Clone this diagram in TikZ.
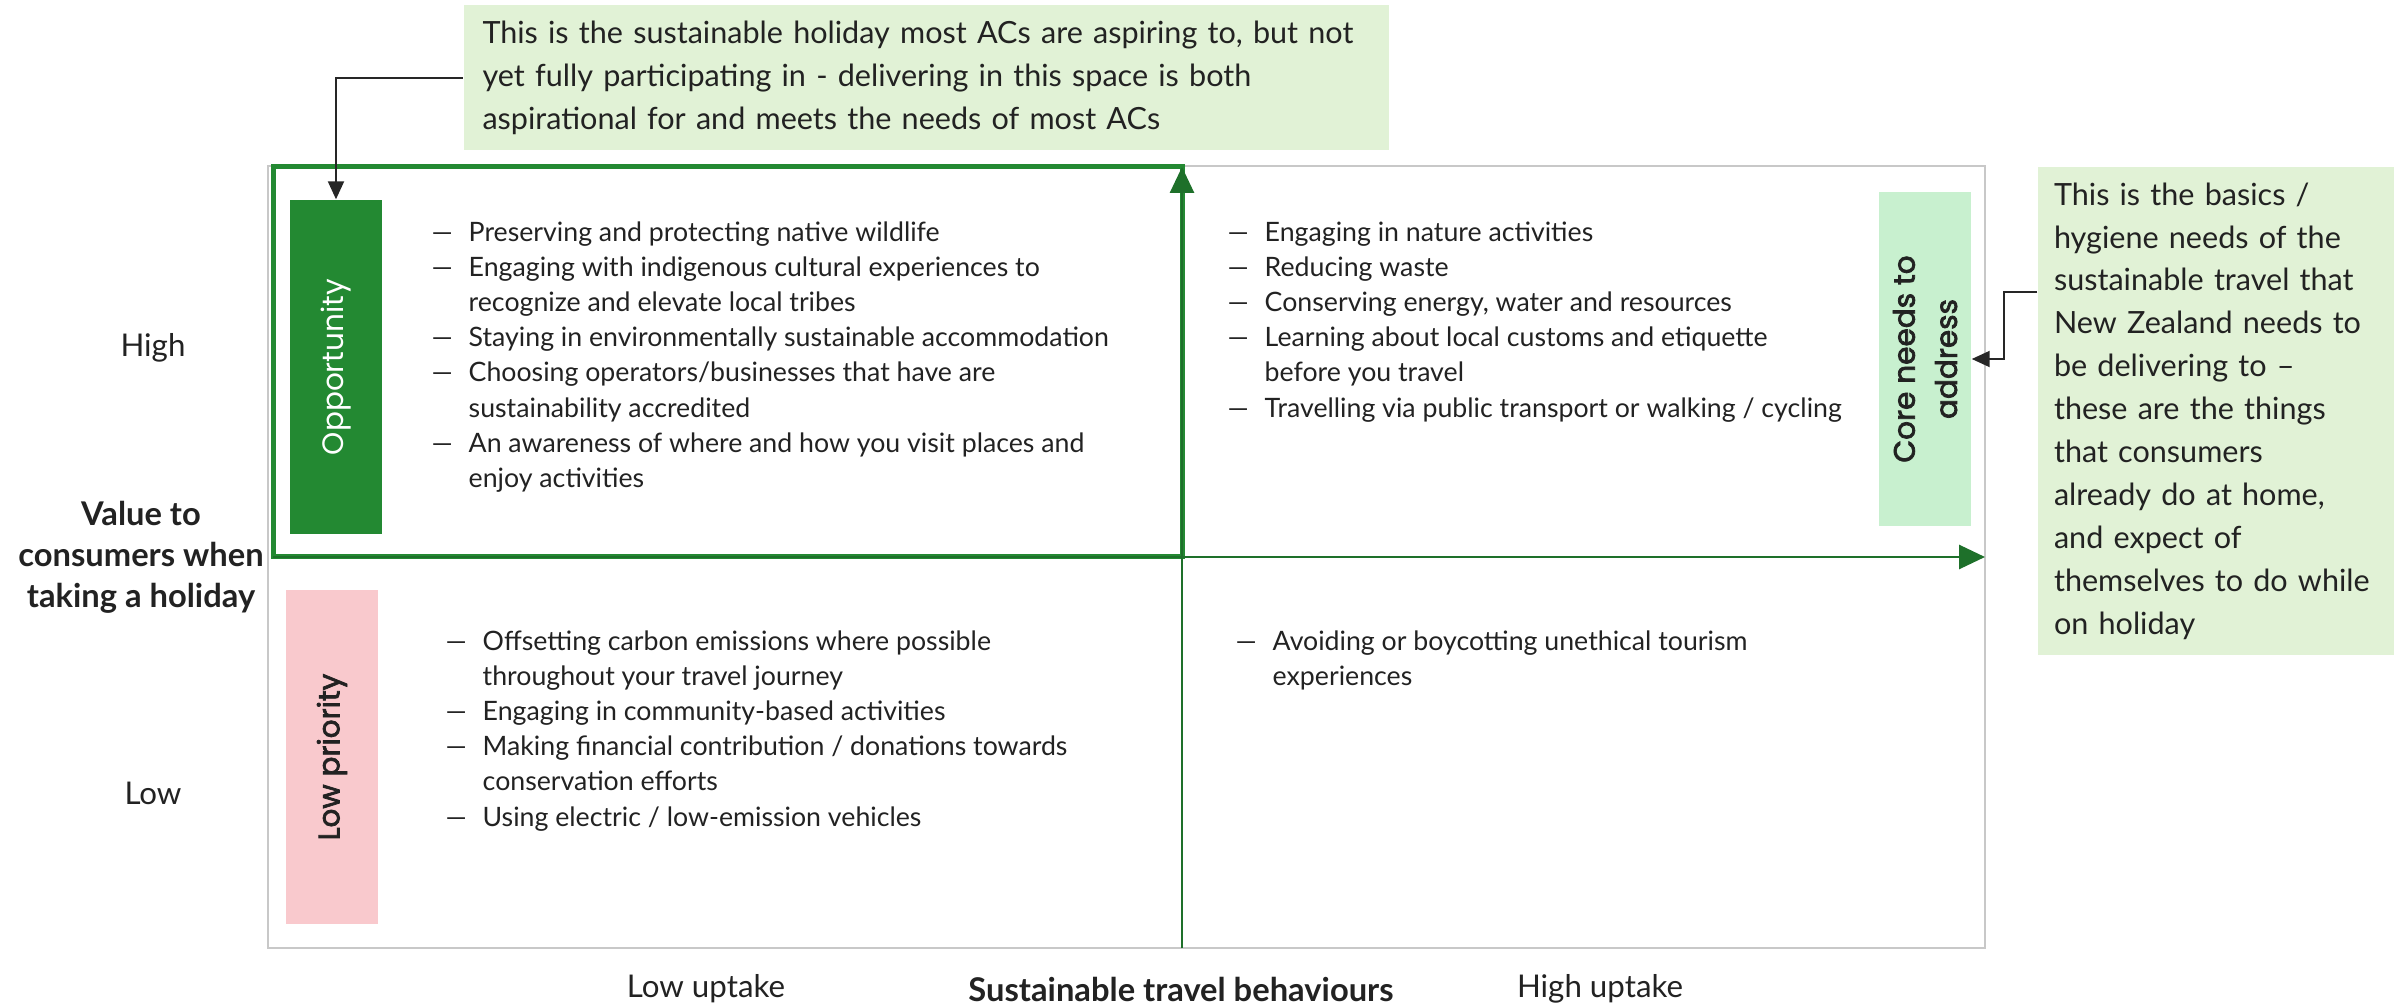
\documentclass[tikz,border=0pt]{standalone}
\usepackage{fontspec}
\setmainfont{Lato}
\newfontfamily\tagfont{Poppins}
\newfontfamily\tagfontsb{Poppins}[FakeBold=2.5]
\usetikzlibrary{arrows.meta}

\definecolor{oppgreen}{RGB}{35,137,50}
\definecolor{axisgreen}{RGB}{30,112,42}
\definecolor{notegreen}{RGB}{225,242,214}
\definecolor{coregreen}{RGB}{200,240,207}
\definecolor{lowpink}{RGB}{249,201,205}
\definecolor{framegrey}{RGB}{200,200,200}
\definecolor{inkgrey}{RGB}{34,34,34}

\tikzset{
    qm frame/.style={draw=framegrey, line width=0.2mm},
    qm focus/.style={draw=oppgreen, line width=0.5mm},
    qm axis/.style={-{Triangle[length=2.6mm, width=2.4mm]}, axisgreen,
                    line width=0.28mm},
    qm tag/.style={rotate=90, minimum width=33.4mm, minimum height=9.2mm,
                   inner sep=0pt, align=center,
                   font=\tagfont\fontsize{8.4}{12}\selectfont},
    qm note/.style={fill=notegreen, align=left, inner ysep=0pt, text=inkgrey,
                    font=\fontsize{8.7}{12.2}\selectfont},
    qm items/.style={anchor=north west, align=left, inner sep=0pt,
                     text=inkgrey, font=\fontsize{7.6}{10}\selectfont},
    qm level/.style={text=inkgrey, font=\fontsize{8.9}{11.7}\selectfont},
    qm title/.style={text=inkgrey, align=center,
                     font=\fontsize{9.3}{11.7}\selectfont\bfseries},
    qm pointer/.style={-{Triangle[length=1.8mm, width=1.6mm]}, black!85,
                       line width=0.2mm},
}
\newcommand{\itm}[1]{\makebox[3.7mm][l]{\textemdash}#1}
\newcommand{\cnt}[1]{\hspace*{3.7mm}#1}

\begin{document}
\begin{tikzpicture}[x=0.1mm, y=-0.1mm]
    \useasboundingbox (0,0) rectangle (2405,1007);

    % Quadrant frame and the highlighted quadrant
    \draw[qm frame] (268,166) rectangle (1985,948);
    \draw[qm focus] (273,167) rectangle (1182,557);

    % Axes
    \coordinate (ax-bottom) at (1182,948);
    \coordinate (ax-top)    at (1182,167);
    \coordinate (ax-left)   at (273,557);
    \coordinate (ax-right)  at (1985,557);
    \draw[qm axis] (ax-bottom) -- (ax-top);
    \draw[qm axis] (ax-left) -- (ax-right);

    % Coloured tags
    \node[qm tag, fill=oppgreen, text=white] (opp) at (336,367) {Opportunity};
    \node[qm tag, fill=coregreen, text=inkgrey,
          font=\tagfontsb\fontsize{8.4}{12}\selectfont] (core) at (1925,359)
        {Core needs to\\address};
    \node[qm tag, fill=lowpink, text=inkgrey,
          font=\tagfontsb\fontsize{8.4}{12}\selectfont] (low) at (332,757)
        {Low priority};

    % Behaviours in each quadrant
    \node[qm items] (tl) at (431,221) {%
        \itm{Preserving and protecting native wildlife}\\
        \itm{Engaging with indigenous cultural experiences to}\\
        \cnt{recognize and elevate local tribes}\\
        \itm{Staying in environmentally sustainable accommodation}\\
        \itm{Choosing operators/businesses that have are}\\
        \cnt{sustainability accredited}\\
        \itm{An awareness of where and how you visit places and}\\
        \cnt{enjoy activities}};
    \node[qm items] (tr) at (1227,221) {%
        \itm{Engaging in nature activities}\\
        \itm{Reducing waste}\\
        \itm{Conserving energy, water and resources}\\
        \itm{Learning about local customs and etiquette}\\
        \cnt{before you travel}\\
        \itm{Travelling via public transport or walking / cycling}};
    \node[qm items] (bl) at (445,630) {%
        \itm{Offsetting carbon emissions where possible}\\
        \cnt{throughout your travel journey}\\
        \itm{Engaging in community-based activities}\\
        \itm{Making financial contribution / donations towards}\\
        \cnt{conservation efforts}\\
        \itm{Using electric / low-emission vehicles}};
    \node[qm items] (br) at (1235,630) {%
        \itm{Avoiding or boycotting unethical tourism}\\
        \cnt{experiences}};

    % Axis labels
    \node[qm level] (high) at (153,348) {High};
    \node[qm level] (lowv) at (153,793) {Low};
    \node[qm title] (value) at (141,557) {Value to\\consumers when\\taking a holiday};
    \node[qm level] (lowup)  at (706,989) {Low uptake};
    \node[qm title] (behav)  at (1181,989) {Sustainable travel behaviours};
    \node[qm level] (highup) at (1600,989) {High uptake};

    % Call-out notes
    \node[qm note, inner xsep=1.9mm, text width=88.7mm, minimum height=14.5mm]
        (aspire) at (926,78)
        {This is the sustainable holiday most ACs are aspiring to, but not\\
        yet fully participating in - delivering in this space is both\\
        aspirational for and meets the needs of most ACs};
    \node[qm note, inner xsep=1.6mm, text width=32.4mm, minimum height=48.8mm]
        (basics) at (2216,411)
        {This is the basics /\\hygiene needs of the\\
        sustainable travel that\\New Zealand needs to\\be delivering to --\\
        these are the things\\that consumers\\already do at home,\\
        and expect of\\themselves to do while\\on holiday};

    % Pointers
    \coordinate (bend) at (2004,292);
    \draw[qm pointer] (aspire.west) -| (opp.east);
    \draw[qm pointer] (basics.west |- bend) -- (bend) |- (core.south);
\end{tikzpicture}
\end{document}
